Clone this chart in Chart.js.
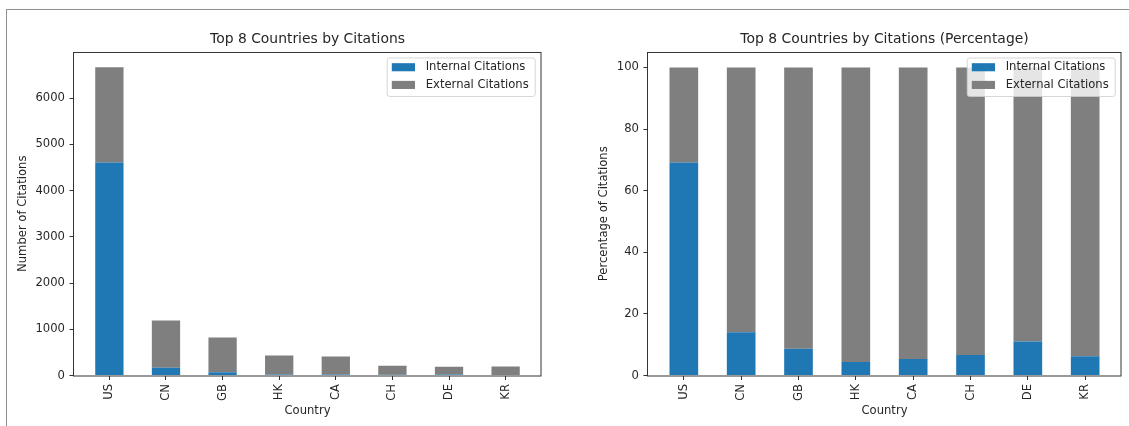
<!DOCTYPE html>
<html>
<head>
<meta charset="utf-8">
<title>Top 8 Countries by Citations</title>
<script src="https://cdn.jsdelivr.net/npm/chart.js@4.4.1/dist/chart.umd.min.js"></script>
<style>
  html, body { margin: 0; padding: 0; background: #ffffff; }
  #page { position: relative; width: 1129px; height: 426px; overflow: hidden; background: #ffffff; }
  #frame { position: absolute; left: 6px; top: 9px; right: -4px; bottom: -4px;
           border-left: 1.5px solid #8f8f8f; border-top: 1.5px solid #8f8f8f; }
  canvas { position: absolute; top: 0; }
</style>
</head>
<body>
<div id="page">
  <div id="frame"></div>
  <canvas id="countChart" width="564" height="426" style="left:0"></canvas>
  <canvas id="shareChart" width="565" height="426" style="left:564px"></canvas>
</div>
<script>
// Countries, citation counts and axis ticks
const countries = ['US', 'CN', 'GB', 'HK', 'CA', 'CH', 'DE', 'KR'];
const internalCitations = [4610, 167, 71, 19, 22, 14, 21, 12];
const externalCitations = [2055, 1021, 750, 413, 388, 196, 169, 180];
const countTicks = [0, 1000, 2000, 3000, 4000, 5000, 6000];
const shareTicks = [0, 20, 40, 60, 80, 100];

const INK = '#262626';
const SPINE = '#333333';
const BLUE = '#1f77b4';
const GREY = '#7f7f7f';

Chart.defaults.font.family = '"DejaVu Sans", sans-serif';
Chart.defaults.font.size = 11.6;
Chart.defaults.color = INK;

// Shares of each country's total, in percent
const totals = countries.map((c, i) => internalCitations[i] + externalCitations[i]);
const internalShare = internalCitations.map((v, i) => v / totals[i] * 100);
const externalShare = externalCitations.map((v, i) => v / totals[i] * 100);

const points = values => values.map((v, i) => ({ x: i, y: v }));

// Axes box on all four sides plus a boxed legend in the upper right corner
const frameAndLegend = {
  id: 'frameAndLegend',
  afterDatasetsDraw(chart) {
    const { ctx, chartArea: a } = chart;
    ctx.save();
    ctx.strokeStyle = SPINE;
    ctx.lineWidth = 1;
    ctx.strokeRect(a.left - 0.5, a.top + 0.5, a.right - a.left + 0.5, a.bottom - a.top);

    ctx.font = '11.6px "DejaVu Sans", sans-serif';
    const sets = chart.data.datasets;
    const textW = Math.max(...sets.map(d => ctx.measureText(d.label).width));
    const w = 38.5 + textW + 6.5;
    const h = 38.5;
    const right = a.right - 5.8;
    const left = right - w;
    const top = a.top + 6;
    ctx.beginPath();
    ctx.roundRect(left, top, w, h, 2.5);
    ctx.fillStyle = 'rgba(255,255,255,0.8)';
    ctx.fill();
    ctx.strokeStyle = 'rgba(204,204,204,0.8)';
    ctx.stroke();
    sets.forEach((d, i) => {
      const cy = top + 9.2 + i * 17.7;
      ctx.fillStyle = d.backgroundColor;
      ctx.fillRect(left + 4.6, cy - 4, 23.2, 8.1);
      ctx.fillStyle = INK;
      ctx.textAlign = 'left';
      ctx.textBaseline = 'middle';
      ctx.fillText(d.label, left + 38.5, cy);
    });
    ctx.restore();
  }
};

function makeChart(id, cfg) {
  const tickGrid = { display: true, drawOnChartArea: false, drawTicks: true,
                     tickLength: 4.5, tickColor: SPINE, offset: false };
  return new Chart(document.getElementById(id), {
    type: 'bar',
    data: {
      datasets: [
        { label: 'Internal Citations', data: points(cfg.internal), backgroundColor: BLUE,
          borderWidth: 0, barPercentage: 0.5, categoryPercentage: 1 },
        { label: 'External Citations', data: points(cfg.external), backgroundColor: GREY,
          borderWidth: 0, barPercentage: 0.5, categoryPercentage: 1 }
      ]
    },
    options: {
      responsive: false,
      animation: false,
      layout: { padding: { left: 0, top: 0, bottom: 0, right: cfg.padRight } },
      plugins: {
        legend: { display: false },
        tooltip: { enabled: false },
        title: { display: true, fullSize: false, text: cfg.title, color: INK,
                 font: { size: 13.9, weight: 'normal' }, padding: { top: 31, bottom: 4.3 } }
      },
      scales: {
        x: {
          type: 'linear', stacked: true, offset: false,
          min: -0.625, max: countries.length - 1 + 0.625,
          afterBuildTicks: s => { s.ticks = countries.map((c, i) => ({ value: i })); },
          afterFit: s => { s.height = 50.5; },
          ticks: { callback: v => countries[v], autoSkip: false, maxRotation: 90, minRotation: 90,
                   padding: 4, color: INK },
          grid: tickGrid,
          border: { display: false },
          title: { display: true, text: 'Country', color: INK, padding: { top: 0, bottom: 8.3 } }
        },
        y: {
          type: 'linear', stacked: true, min: 0, max: cfg.yMax,
          afterBuildTicks: s => { s.ticks = cfg.yTicks.map(v => ({ value: v })); },
          afterFit: s => { s.width = cfg.axisWidth; },
          ticks: { callback: v => String(v), padding: 4.5, color: INK },
          grid: tickGrid,
          border: { display: false },
          title: { display: true, text: cfg.yTitle, color: INK, padding: { top: cfg.yTitlePad, bottom: 0 } }
        }
      }
    },
    plugins: [frameAndLegend]
  });
}

makeChart('countChart', {
  title: 'Top 8 Countries by Citations',
  yTitle: 'Number of Citations',
  internal: internalCitations,
  external: externalCitations,
  yTicks: countTicks,
  yMax: 6998,
  axisWidth: 74,
  yTitlePad: 16.3,
  padRight: 23
});

makeChart('shareChart', {
  title: 'Top 8 Countries by Citations (Percentage)',
  yTitle: 'Percentage of Citations',
  internal: internalShare,
  external: externalShare,
  yTicks: shareTicks,
  yMax: 105,
  axisWidth: 84,
  yTitlePad: 33.3,
  padRight: 8
});
</script>
</body>
</html>
